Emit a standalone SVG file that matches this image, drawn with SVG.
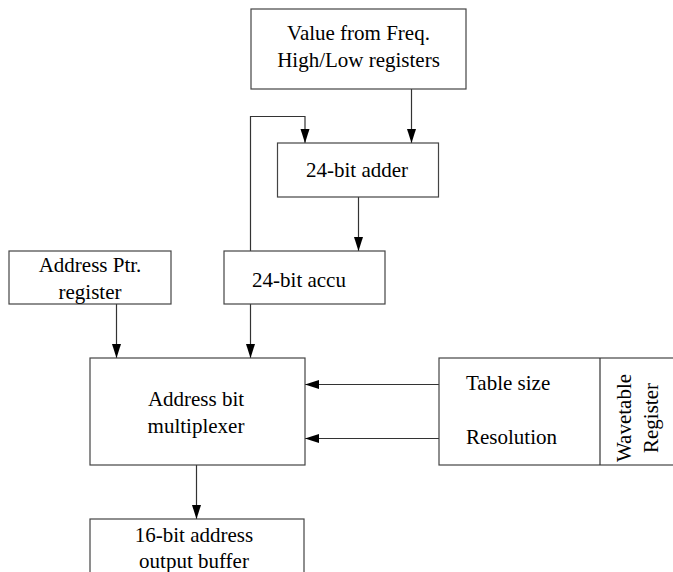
<svg xmlns="http://www.w3.org/2000/svg" width="673" height="572" viewBox="0 0 673 572">
<defs>
<marker id="ah" markerWidth="16" markerHeight="10" refX="14" refY="4.5" orient="auto" markerUnits="userSpaceOnUse">
<path d="M0,0 L14,4.5 L0,9 Z" fill="#000"/>
</marker>
</defs>
<style>
rect{fill:#fff;stroke:#444;stroke-width:1.2}
.c{text-anchor:middle}
.ln{fill:none;stroke:#333;stroke-width:1.2}
</style>
<rect x="0" y="0" width="673" height="572" style="fill:#fff;stroke:none"/>
<g id="connectors">
<path class="ln" d="M411.5,89 V143" marker-end="url(#ah)"/>
<path class="ln" d="M250.5,251 V116.5 H305 V143" marker-end="url(#ah)"/>
<path class="ln" d="M358.5,197 V251" marker-end="url(#ah)"/>
<path class="ln" d="M116.5,304 V358" marker-end="url(#ah)"/>
<path class="ln" d="M250.5,304 V358" marker-end="url(#ah)"/>
<path class="ln" d="M439,384.5 H305" marker-end="url(#ah)"/>
<path class="ln" d="M439,438.5 H305" marker-end="url(#ah)"/>
<path class="ln" d="M196.5,465 V519" marker-end="url(#ah)"/>
</g>
<g font-family="'Liberation Serif', serif" font-size="21" fill="#000">
<g id="freq">
<rect x="251" y="9" width="215" height="80"/>
<text class="c" x="358.5" y="40">Value from Freq.</text>
<text class="c" x="358.5" y="67">High/Low registers</text>
</g>
<g id="adder">
<rect x="277.5" y="143" width="161" height="54"/>
<text class="c" x="357" y="177">24-bit adder</text>
</g>
<g id="accu">
<rect x="224" y="251" width="161" height="53"/>
<text class="c" x="299" y="287">24-bit accu</text>
</g>
<g id="addrptr">
<rect x="9" y="251" width="162" height="53"/>
<text class="c" x="90" y="272">Address Ptr.</text>
<text class="c" x="90" y="299">register</text>
</g>
<g id="mux">
<rect x="90" y="358" width="215" height="107"/>
<text class="c" x="196" y="406">Address bit</text>
<text class="c" x="196" y="433">multiplexer</text>
</g>
<g id="wavetable">
<rect x="439" y="358" width="250" height="107"/>
<line x1="600" y1="358" x2="600" y2="465" class="ln"/>
<text x="466" y="390">Table size</text>
<text x="466" y="444">Resolution</text>
<text class="c" transform="translate(631,418) rotate(-90)">Wavetable</text>
<text class="c" transform="translate(658,418) rotate(-90)">Register</text>
</g>
<g id="outbuf">
<rect x="90" y="519" width="214" height="70"/>
<text class="c" x="194" y="542">16-bit address</text>
<text class="c" x="194" y="568">output buffer</text>
</g>
</g>
</svg>
